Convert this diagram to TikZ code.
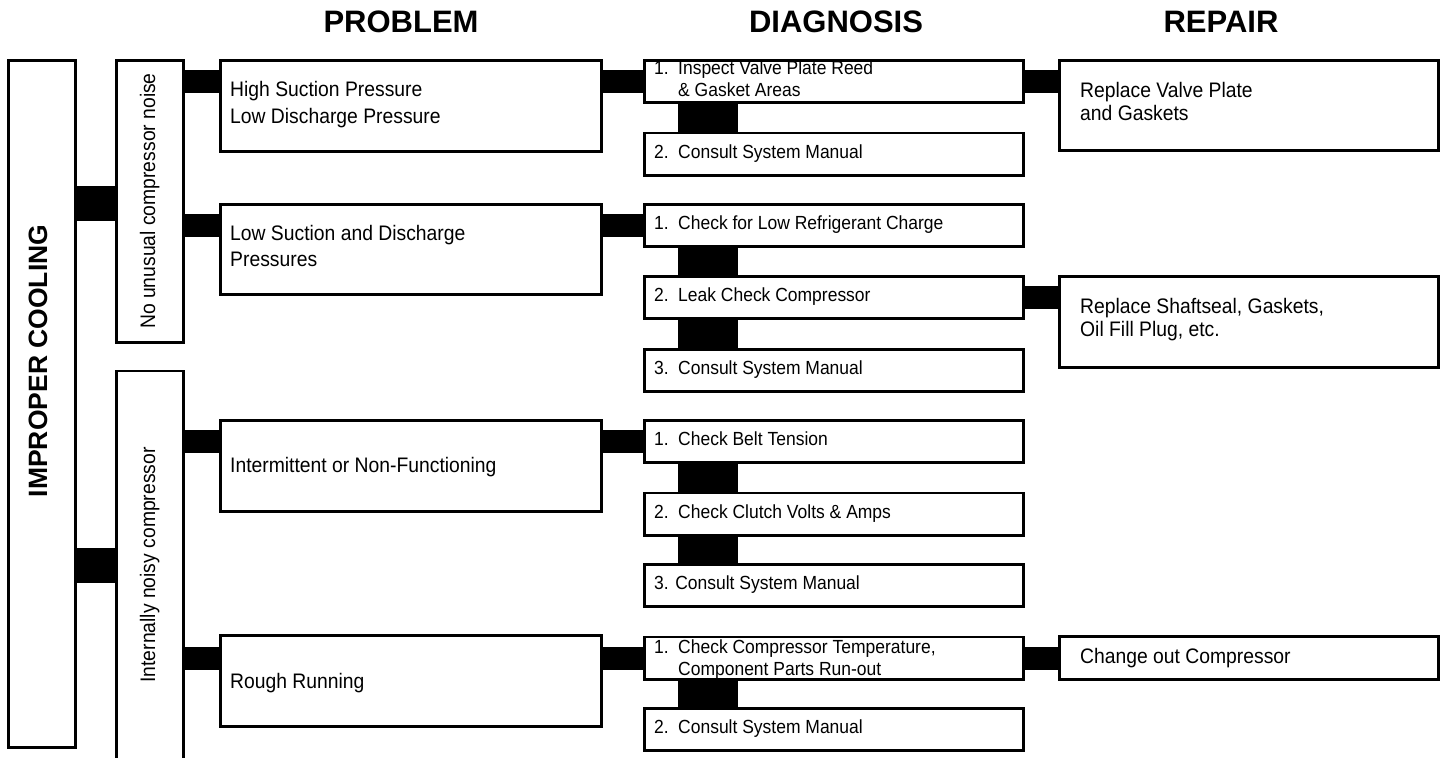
\documentclass[tikz,border=0pt]{standalone}
\usepackage{fontspec}
\setmainfont{Liberation Sans}
\newfontfamily\nfont{Liberation Sans}[FakeStretch=0.92]
\usetikzlibrary{calc}
\begin{document}
\begin{tikzpicture}[x=1pt,y=-1pt,
  box/.style={draw=black, line width=2.8pt, fill=white, inner sep=0pt, outer sep=0pt},
  bar/.style={line width=23pt},
  bigbar/.style={line width=35pt},
  vbar/.style={line width=60pt},
  hdr/.style={font=\fontsize{31}{36}\selectfont\bfseries, anchor=base, inner sep=0pt},
  ptxt/.style={font=\nfont\fontsize{21}{26.5}\selectfont, anchor=base west, inner sep=0pt},
  dtxt/.style={font=\nfont\fontsize{19}{22}\selectfont, anchor=base west, inner sep=0pt},
  rtxt/.style={font=\nfont\fontsize{21}{23}\selectfont, anchor=base west, inner sep=0pt},
  vtxt/.style={font=\nfont\fontsize{21}{26}\selectfont, anchor=base, rotate=90, inner sep=0pt},
]
\useasboundingbox (0,0) rectangle (1447,757);
\fill[white] (0,0) rectangle (1447,757);

% headers
\node[hdr] (hp) at (401,33) {PROBLEM};
\node[hdr] (hd) at (836,33) {DIAGNOSIS};
\node[hdr] (hr) at (1221,33) {REPAIR};

% boxes
\node[box, minimum width=67.2pt, minimum height=687.2pt] (ic) at (42,404) {};
\node[box, minimum width=67.2pt, minimum height=282.2pt] (nu) at (150,201.5) {};
\node[box, minimum width=67.2pt, minimum height=405pt] (in) at (150,573.5) {};

\node[box, minimum width=381.2pt, minimum height=91.2pt] (p1) at (411,106) {};
\node[box, minimum width=381.2pt, minimum height=90.2pt] (p2) at (411,249.5) {};
\node[box, minimum width=381.2pt, minimum height=91.2pt] (p3) at (411,466) {};
\node[box, minimum width=381.2pt, minimum height=91.2pt] (p4) at (411,681) {};

\foreach \n/\y in {d11/81.5, d12/154, d21/225.5, d22/297.5, d23/370.5,
                   d31/441.5, d32/514, d33/585.5, d41/658, d42/729.5}
  \node[box, minimum width=379.2pt, minimum height=42.2pt] (\n) at (834,\y) {};

\node[box, minimum width=379.2pt, minimum height=90.2pt] (r1) at (1249,105.5) {};
\node[box, minimum width=379.2pt, minimum height=91.2pt] (r2) at (1249,322) {};
\node[box, minimum width=379.2pt, minimum height=43.2pt] (r3) at (1249,658) {};

% connectors
\coordinate (ya) at (0,203.5);
\coordinate (yb) at (0,565);
\coordinate (vx) at (708,0);
\draw[bigbar] (ic.east |- ya) -- (nu.west |- ya);
\draw[bigbar] (ic.east |- yb) -- (in.west |- yb);

\draw[bar] (nu.east |- d11.west) -- (p1.west |- d11.west);
\draw[bar] (nu.east |- d21.west) -- (p2.west |- d21.west);
\draw[bar] (in.east |- d31.west) -- (p3.west |- d31.west);
\draw[bar] (in.east |- d41.west) -- (p4.west |- d41.west);

\draw[bar] (p1.east |- d11.west) -- (d11.west);
\draw[bar] (p2.east |- d21.west) -- (d21.west);
\draw[bar] (p3.east |- d31.west) -- (d31.west);
\draw[bar] (p4.east |- d41.west) -- (d41.west);

\draw[bar] (d11.east) -- (r1.west |- d11.east);
\draw[bar] (d22.east) -- (r2.west |- d22.east);
\draw[bar] (d41.east) -- (r3.west |- d41.east);

\draw[vbar] (d11.south -| vx) -- (d12.north -| vx);
\draw[vbar] (d21.south -| vx) -- (d22.north -| vx);
\draw[vbar] (d22.south -| vx) -- (d23.north -| vx);
\draw[vbar] (d31.south -| vx) -- (d32.north -| vx);
\draw[vbar] (d32.south -| vx) -- (d33.north -| vx);
\draw[vbar] (d41.south -| vx) -- (d42.north -| vx);

% rotated texts
\node[rotate=90, anchor=base, inner sep=0pt, font=\fontsize{26.5}{30}\selectfont\bfseries] (tic) at (47,361) {IMPROPER COOLING};
\node[vtxt] (tnu) at (155,201) {No unusual compressor noise};
\node[vtxt] (tin) at (155,565) {Internally noisy compressor};

% problem texts
\node[ptxt] (tp1) at (230,97) {\begin{tabular}[t]{@{}l@{}}High Suction Pressure\\Low Discharge Pressure\end{tabular}};
\node[ptxt] (tp2) at (230,240) {\begin{tabular}[t]{@{}l@{}}Low Suction and Discharge\\Pressures\end{tabular}};
\node[ptxt] (tp3) at (230,472) {Intermittent or Non-Functioning};
\node[ptxt] (tp4) at (230,688) {Rough Running};

% diagnosis texts
\node[dtxt] (td11) at (654,75) {\begin{tabular}[t]{@{}l@{}}\makebox[24pt][l]{1.}Inspect Valve Plate Reed\\\hspace*{24pt}\& Gasket Areas\end{tabular}};
\node[dtxt] (td12) at (654,158) {\makebox[24pt][l]{2.}Consult System Manual};
\node[dtxt] (td21) at (654,229) {\makebox[24pt][l]{1.}Check for Low Refrigerant Charge};
\node[dtxt] (td22) at (654,301) {\makebox[24pt][l]{2.}Leak Check Compressor};
\node[dtxt] (td23) at (654,374) {\makebox[24pt][l]{3.}Consult System Manual};
\node[dtxt] (td31) at (654,445) {\makebox[24pt][l]{1.}Check Belt Tension};
\node[dtxt] (td32) at (654,518) {\makebox[24pt][l]{2.}Check Clutch Volts \& Amps};
\node[dtxt] (td33) at (654,589) {3. Consult System Manual};
\node[dtxt] (td41) at (654,653) {\begin{tabular}[t]{@{}l@{}}\makebox[24pt][l]{1.}Check Compressor Temperature,\\\hspace*{24pt}Component Parts Run-out\end{tabular}};
\node[dtxt] (td42) at (654,733) {\makebox[24pt][l]{2.}Consult System Manual};

% repair texts
\node[rtxt] (tr1) at (1080,98) {\begin{tabular}[t]{@{}l@{}}Replace Valve Plate\\and Gaskets\end{tabular}};
\node[rtxt] (tr2) at (1080,313) {\begin{tabular}[t]{@{}l@{}}Replace Shaftseal, Gaskets,\\Oil Fill Plug, etc.\end{tabular}};
\node[rtxt] (tr3) at (1080,663) {Change out Compressor};
\end{tikzpicture}
\end{document}
